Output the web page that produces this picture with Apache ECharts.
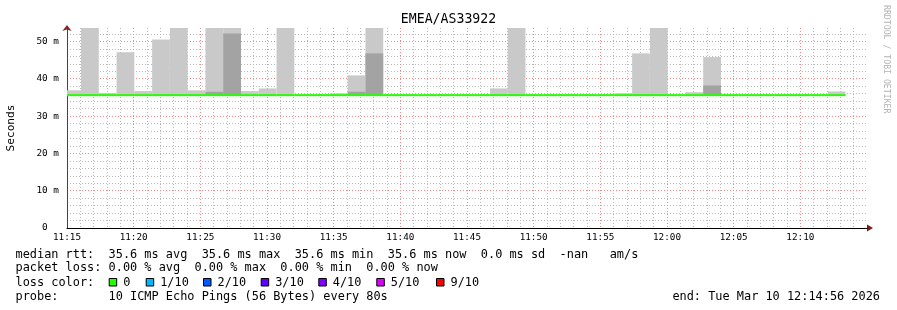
<!DOCTYPE html>
<html>
<head>
<meta charset="utf-8">
<script src="https://cdn.jsdelivr.net/npm/echarts@6/dist/echarts.min.js"></script>
<style>
html,body{margin:0;padding:0;background:#fff;}
#chart{width:897px;height:310px;}
</style>
</head>
<body>
<div id="chart"></div>
<script>
// ---- data ----
const chartTitle = 'EMEA/AS33922';
const stepSeconds = 80;
// end time of each 80 s probe round
const sampleEnds = ['11:16:03','11:17:23','11:18:43','11:20:03','11:21:23','11:22:43','11:24:03','11:25:23',
  '11:26:43','11:28:03','11:29:23','11:30:43','11:32:03','11:33:23','11:34:43','11:36:03','11:37:23','11:38:43',
  '11:40:03','11:41:23','11:42:43','11:44:03','11:45:23','11:46:43','11:48:03','11:49:23','11:50:43','11:52:03',
  '11:53:23','11:54:43','11:56:03','11:57:23','11:58:43','12:00:03','12:01:23','12:02:43','12:04:03','12:05:23',
  '12:06:43','12:08:03','12:09:23','12:10:43','12:12:03','12:13:23'];
// smoke: lowest ping (ms)
const smokeLow = [35.5,35.5,35.5,35.5,35.5,35.5,35.5,35.5,35.5,35.5,35.5,35.5,35.5,35.5,35.5,35.5,35.5,35.5,
  35.5,35.5,35.5,35.5,35.5,35.5,35.5,35.5,35.5,35.5,35.5,35.5,35.5,35.5,35.5,35.5,35.5,35.5,35.5,35.5,
  35.5,35.5,35.5,35.5,35.5,35.5];
// smoke: highest ping (ms) - light band top
const smokeHigh = [36.9,53.6,36.2,47.1,36.7,50.5,53.6,36.9,53.6,53.6,36.7,37.4,53.6,35.7,35.7,36.1,40.9,53.6,
  35.7,35.7,35.7,35.7,35.7,35.7,37.4,53.6,35.7,35.7,35.7,35.7,35.7,36.1,46.8,53.6,35.7,36.4,45.8,35.7,
  35.7,35.7,35.7,35.7,35.7,36.6];
// smoke: inner band top (ms) - dark band
const smokeInner = [35.7,35.7,35.7,35.7,35.7,35.7,35.7,35.7,36.5,52.1,35.7,35.7,35.7,35.7,35.7,35.7,36.5,46.8,
  35.7,35.7,35.7,35.7,35.7,35.7,35.7,35.7,35.7,35.7,35.7,35.7,35.7,35.7,35.7,35.7,35.7,35.7,38.2,35.7,
  35.7,35.7,35.7,35.7,35.7,35.7];
// median rtt (ms)
const medianRtt = [35.6,35.6,35.6,35.6,35.6,35.6,35.6,35.6,35.6,35.6,35.6,35.6,35.6,35.6,35.6,35.6,35.6,35.6,
  35.6,35.6,35.6,35.6,35.6,35.6,35.6,35.6,35.6,35.6,35.6,35.6,35.6,35.6,35.6,35.6,35.6,35.6,35.6,35.6,
  35.6,35.6,35.6,35.6,35.6,35.6];
// packet loss index per round (0 = no loss)
const lossIndex = [0,0,0,0,0,0,0,0,0,0,0,0,0,0,0,0,0,0,0,0,0,0,0,0,0,0,0,0,0,0,0,0,0,0,0,0,0,0,0,0,0,0,0,0];
const lossLabels = ['0','1/10','2/10','3/10','4/10','5/10','9/10'];
const xRange = ['11:15','12:15'];
const yMaxMs = 53.6;
const statsLine1 = 'median rtt:  35.6 ms avg  35.6 ms max  35.6 ms min  35.6 ms now  0.0 ms sd  -nan   am/s';
const statsLine2 = 'packet loss: 0.00 % avg  0.00 % max  0.00 % min  0.00 % now';
const lossTitle = 'loss color:';
const probeLine = 'probe:       10 ICMP Echo Pings (56 Bytes) every 80s';
const endLine = 'end: Tue Mar 10 12:14:56 2026';
const watermark = 'RRDTOOL / TOBI OETIKER';

// ---- styles ----
const lossColors = ['#26ff00','#00b8ff','#0059ff','#5e00ff','#7e00ff','#dd00ff','#ff0000'];
const MONO = '"DejaVu Sans Mono", monospace';

function toMin(s){ const p = s.split(':').map(Number); return p[0]*60 + p[1] + (p[2]||0)/60; }
function fmtMin(v){ const h = Math.floor(v/60), m = Math.round(v - h*60); return h + ':' + (m<10?'0':'') + m; }

const stepMin = stepSeconds/60;
const lightData = [], darkData = [], medData = [];
sampleEnds.forEach((t,i)=>{
  const e = toMin(t), s = e - stepMin;
  lightData.push([s, e, smokeLow[i], smokeHigh[i]]);
  darkData.push([s, e, smokeLow[i], smokeInner[i]]);
  medData.push([s, e, medianRtt[i], lossIndex[i]]);
});

function rectRender(fill){
  return function(params, api){
    const p1 = api.coord([api.value(0), api.value(3)]);
    const p2 = api.coord([api.value(1), api.value(2)]);
    return {type:'rect', shape:{x:p1[0], y:p1[1], width:p2[0]-p1[0], height:p2[1]-p1[1]},
      style:{fill: fill}};
  };
}

const chart = echarts.init(document.getElementById('chart'), null, {renderer:'canvas'});

const graphics = [];
[[statsLine1,254.5],[statsLine2,268.3],[lossTitle,282.5],[probeLine,296.5]].forEach(([t,y])=>{
  graphics.push({type:'text', x:15.5, y:y, style:{text:t, font:'11.9px '+MONO, fill:'#000', verticalAlign:'middle'}});
});
const boxX = [108.7,145.7,203,260.7,318.3,376.3,436];
lossLabels.forEach((l,i)=>{
  graphics.push({type:'rect', shape:{x:boxX[i]+0.5, y:278.5, width:7.5, height:7.5},
    style:{fill:lossColors[i], stroke:'#000', lineWidth:1}});
  graphics.push({type:'text', x:boxX[i]+14.5, y:282.5, style:{text:l, font:'11.9px '+MONO, fill:'#000', verticalAlign:'middle'}});
});
graphics.push({type:'text', x:880, y:296.5, style:{text:endLine, font:'11.9px '+MONO, fill:'#000', align:'right', verticalAlign:'middle'}});
graphics.push({type:'text', x:886, y:5, rotation:-Math.PI/2,
  style:{text:watermark, font:'8.2px '+MONO, fill:'#b4b4b4', align:'left', verticalAlign:'middle'}});
graphics.push({type:'polygon', shape:{points:[[867,224.5],[873,228],[867,231.5]]}, style:{fill:'#7f1a1a'}});

const minorGrey = '#b9b9b9', majorRed = '#ee8a8a';
const xMin = toMin(xRange[0]), xMax = toMin(xRange[1]);

chart.setOption({
  animation:false,
  backgroundColor:'#ffffff',
  title:{text:chartTitle, left:'center', top:13, padding:0,
    textStyle:{fontFamily:MONO, fontSize:13.2, fontWeight:'normal', color:'#000'}},
  grid:{left:67, right:30, top:28, bottom:82, containLabel:false, outerBoundsMode:'none'},
  xAxis:[
    {type:'value', min:xMin, max:xMax, interval:5, z:1,
      axisLine:{show:true, onZero:false, lineStyle:{color:'#000', width:1}},
      axisTick:{show:false},
      axisLabel:{margin:5, fontFamily:MONO, fontSize:9.3, color:'#000', showMaxLabel:false,
        formatter:v=> fmtMin(v)},
      splitLine:{show:true, showMaxLine:false, lineStyle:{color:majorRed, type:[1,2], width:1}}
    },
    {type:'value', min:xMin, max:xMax, interval:1, z:0, position:'bottom',
      axisLine:{show:false}, axisTick:{show:false}, axisLabel:{show:false},
      splitLine:{show:true, showMaxLine:false, lineStyle:{color:minorGrey, type:[1,2], width:1}}
    }
  ],
  yAxis:[
    {type:'value', min:0, max:yMaxMs, interval:10, z:1,
      name:'Seconds', nameLocation:'middle', nameRotate:90, nameGap:50,
      nameTextStyle:{fontFamily:MONO, fontSize:11.2, color:'#000'},
      axisLine:{show:true, symbol:['none','arrow'], symbolSize:[7,6], symbolOffset:[0,3],
        lineStyle:{color:'#7f2a2a', width:1}},
      axisTick:{show:false},
      axisLabel:{margin:8, fontFamily:MONO, fontSize:9.4, color:'#000', showMaxLabel:false,
        formatter:v=> v===0 ? '0  ' : v+' m'},
      splitLine:{show:true, showMaxLine:false, lineStyle:{color:majorRed, type:[1,2], width:1}}
    },
    {type:'value', min:0, max:yMaxMs, interval:2, z:0, position:'left',
      axisLine:{show:false}, axisTick:{show:false}, axisLabel:{show:false},
      splitLine:{show:true, showMaxLine:false, lineStyle:{color:minorGrey, type:[1,2], width:1}}
    }
  ],
  series:[
    {type:'custom', name:'smoke', clip:true, data:lightData, encode:{x:[0,1], y:[2,3]},
      renderItem:rectRender('#c9c9c9'), z:2},
    {type:'custom', name:'smoke inner', clip:true, data:darkData, encode:{x:[0,1], y:[2,3]},
      renderItem:rectRender('#a3a3a3'), z:3},
    {type:'custom', name:'median rtt', clip:true, data:medData, encode:{x:[0,1], y:2},
      renderItem:function(params, api){
        const a = api.coord([api.value(0), api.value(2)]);
        const b = api.coord([api.value(1), api.value(2)]);
        return {type:'line', shape:{x1:a[0], y1:a[1], x2:b[0], y2:b[1]},
          style:{stroke:lossColors[api.value(3)], lineWidth:2, lineCap:'butt'}};
      }, z:4}
  ],
  graphic:graphics
});
</script>
</body>
</html>
